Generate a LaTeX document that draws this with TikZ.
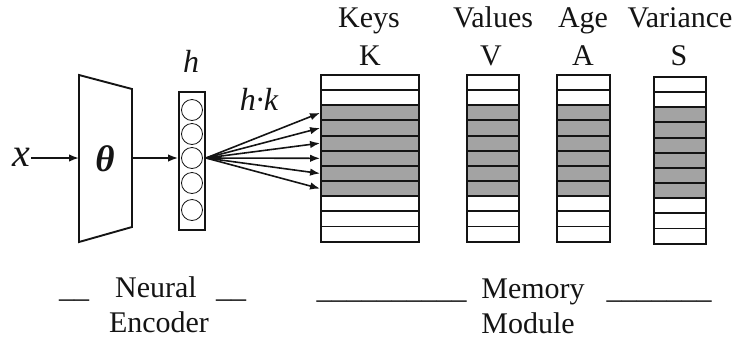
\documentclass[tikz,border=0pt]{standalone}
\usepackage{fontspec}
\setmainfont{Liberation Serif}
\usetikzlibrary{arrows.meta}

\definecolor{ink}{HTML}{141414}
\definecolor{slot}{HTML}{A3A3A3}

\begin{document}
\begin{tikzpicture}[x=1pt, y=-1pt,
  txt/.style={font=\fontsize{30}{36}\selectfont, inner sep=0pt, anchor=base, text=ink},
  mathlbl/.style={font=\fontsize{32}{36}\selectfont\itshape, inner sep=0pt, anchor=base, text=ink},
  arr/.style={draw=ink, line width=1.6pt, -{Latex[length=10pt, width=7.5pt]}},
  cell/.style={draw=ink, line width=1.9pt, rectangle, inner sep=0pt, minimum height=15.2pt},
  unit/.style={draw=ink, line width=0.8pt, circle, inner sep=0pt, minimum size=21pt},
]
\useasboundingbox (0,0) rectangle (739,341);

% ---- encoder ----
\coordinate (e1) at (79,75);
\coordinate (e2) at (132,89);
\coordinate (e3) at (132,227);
\coordinate (e4) at (79,242);
\draw[ink, line width=1.9pt, line join=miter] (e1) -- (e2) -- (e3) -- (e4) -- cycle;
\node[font=\fontsize{37}{40}\selectfont\bfseries\itshape, inner sep=0pt, anchor=base, text=ink] (theta) at (105,171) {θ};
\node[font=\fontsize{40}{40}\selectfont\itshape, inner sep=1pt, anchor=base, text=ink] (xin) at (21,166) {x};
\coordinate (encin) at (79,158);
\coordinate (encout) at (132,158);
\draw[arr] (xin.east |- encin) -- (encin);

% ---- hidden vector h ----
\node[draw=ink, line width=1.9pt, rectangle, inner sep=0pt, minimum width=26pt, minimum height=138pt] (hcol) at (192,161) {};
\node[unit] (c1) at (192,110) {};
\node[unit] (c2) at (192,134) {};
\node[unit] (c3) at (192,158) {};
\node[unit] (c4) at (192,183) {};
\node[unit] (c5) at (192,210) {};
\node[mathlbl] (hlbl) at (191,72) {h};
\node[mathlbl] (hklbl) at (259,110) {h·k};
\draw[arr] (encout) -- (encout -| hcol.west);

% ---- memory columns ----
\foreach \nm/\cx/\w/\top in {K/370/98/75, V/493/52/75, A/583.5/53/75, S/680/52/77} {
  \foreach \i in {1,...,11} {
    \pgfmathsetmacro{\cy}{\top+(\i-0.5)*15.15}
    \ifnum\i>2 \ifnum\i<9
      \node[cell, fill=slot, minimum width=\w pt] (\nm-\i) at (\cx,\cy) {};
    \else
      \node[cell, fill=white, minimum width=\w pt] (\nm-\i) at (\cx,\cy) {};
    \fi \else
      \node[cell, fill=white, minimum width=\w pt] (\nm-\i) at (\cx,\cy) {};
    \fi
  }
}

% column headings
\node[txt] (keys) at (369,27) {Keys};
\node[txt] (kk) at (370,65) {K};
\node[txt] (vals) at (493,27) {Values};
\node[txt] (vv) at (491,65) {V};
\node[txt] (age) at (583,27) {Age};
\node[txt] (aa) at (583,65) {A};
\node[txt] (var) at (680,27) {Variance};
\node[txt] (ss) at (679,65) {S};

% key lookups from h
\foreach \i in {3,...,8} {
  \draw[arr] (hcol.east |- c3) -- (K-\i.west);
}

% ---- captions ----
\node[txt] (nl) at (74,297) {\_\_};
\node[txt] (neural) at (156,297) {Neural};
\node[txt] (nr) at (231,297) {\_\_};
\node[txt] (encoder) at (159,332) {Encoder};
\node[txt] (ml) at (391.5,298) {\_\_\_\_\_\_\_\_\_\_};
\node[txt] (memory) at (533,298) {Memory};
\node[txt] (mr) at (659,298) {\_\_\_\_\_\_\_};
\node[txt] (module) at (528,333) {Module};
\end{tikzpicture}
\end{document}
